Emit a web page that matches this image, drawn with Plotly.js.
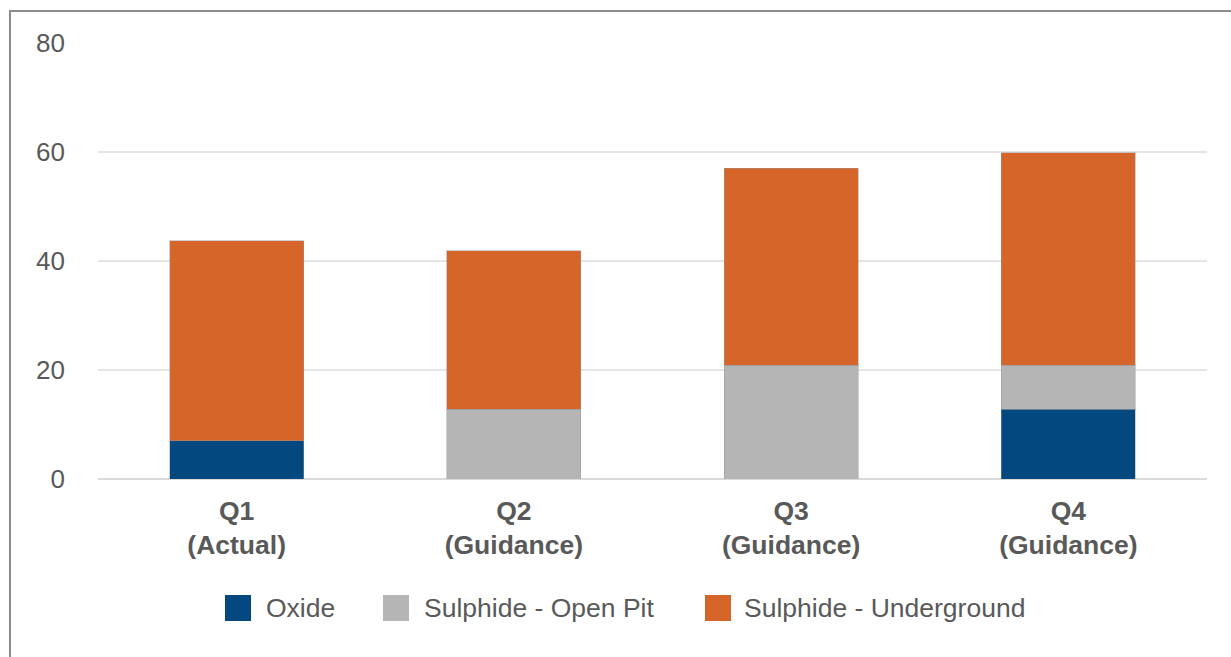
<!DOCTYPE html>
<html>
<head>
<meta charset="utf-8">
<script src="https://cdn.plot.ly/plotly-3.0.1.min.js"></script>
<style>
  html, body { margin: 0; padding: 0; background: #ffffff; overflow: hidden; }
  #wrap { position: relative; width: 1231px; height: 657px; }
  #chart { position: absolute; left: 0; top: 0; width: 1231px; height: 657px; }
  #frame { position: absolute; left: 9px; top: 10px; width: 1300px; height: 700px;
           border-left: 2px solid #8c8c8c; border-top: 2px solid #8c8c8c; pointer-events: none; }
</style>
</head>
<body>
<div id="wrap">
  <div id="chart"></div>
  <div id="frame"></div>
</div>
<script>
// Quarterly production by ore source
const quarters = ['Q1', 'Q2', 'Q3', 'Q4'];
const periodType = ['Actual', 'Guidance', 'Guidance', 'Guidance'];
const oxide = [7.0, 0, 0, 12.8];
const sulphideOpenPit = [0, 12.8, 20.9, 8.1];
const sulphideUnderground = [36.7, 29.1, 36.1, 39.0];
const seriesNames = ['Oxide', 'Sulphide - Open Pit', 'Sulphide - Underground'];
const seriesColors = ['#03497f', '#b5b5b5', '#d6652a'];
const yTicks = [0, 20, 40, 60, 80];

const tickLabels = quarters.map((q, i) => q + '<br>(' + periodType[i] + ')');
const seriesValues = [oxide, sulphideOpenPit, sulphideUnderground];

const traces = seriesValues.map((vals, k) => ({
  type: 'bar',
  name: seriesNames[k],
  x: quarters,
  y: vals,
  marker: { color: seriesColors[k], line: { color: 'rgba(150,150,150,0.45)', width: 1 } },
  hoverinfo: 'x+y+name',
  showlegend: false
}));

// Plot area geometry (pixels) used to place the custom legend
const W = 1231, H = 657;
const M = { l: 98, r: 24, t: 43, b: 178 };
const plotW = W - M.l - M.r, plotH = H - M.t - M.b;
const px = x => (x - M.l) / plotW;
const py = y => (H - M.b - y) / plotH;

// Legend with large square swatches
const legendItems = [
  { sx: 225, tx: 264 },
  { sx: 383, tx: 422 },
  { sx: 705, tx: 742 }
];
const swatch = 26, legendMid = 608;
const shapes = legendItems.map((it, k) => ({
  type: 'rect', xref: 'paper', yref: 'paper',
  x0: px(it.sx), x1: px(it.sx + swatch),
  y0: py(legendMid + swatch / 2), y1: py(legendMid - swatch / 2),
  fillcolor: seriesColors[k], line: { width: 0 }
}));
const annotations = legendItems.map((it, k) => ({
  xref: 'paper', yref: 'paper',
  x: px(it.tx), y: py(legendMid),
  xanchor: 'left', yanchor: 'middle',
  text: seriesNames[k], showarrow: false,
  font: { family: 'Liberation Sans, Arial, sans-serif', size: 26.5, color: '#595959' }
}));

const layout = {
  width: W, height: H,
  margin: M,
  barmode: 'stack',
  bargap: 0.517,
  paper_bgcolor: '#ffffff',
  plot_bgcolor: '#ffffff',
  font: { family: 'Liberation Sans, Arial, sans-serif', color: '#595959' },
  showlegend: false,
  xaxis: {
    type: 'category',
    tickvals: quarters,
    ticktext: tickLabels,
    range: [-0.5, 3.5],
    showgrid: false,
    showline: false,
    ticks: '',
    ticklabelstandoff: 13,
    tickfont: { size: 26.5, color: '#595959', weight: 'bold' }
  },
  yaxis: {
    range: [0, 80],
    tickvals: yTicks,
    showgrid: true,
    gridcolor: '#e5e5e5',
    gridwidth: 2,
    zeroline: true,
    zerolinecolor: '#dadada',
    zerolinewidth: 2,
    showline: false,
    ticks: '',
    ticklabelstandoff: 32,
    tickfont: { size: 26, color: '#595959' }
  },
  shapes: shapes,
  annotations: annotations
};

Plotly.newPlot('chart', traces, layout, { displayModeBar: false, staticPlot: true });
</script>
</body>
</html>
